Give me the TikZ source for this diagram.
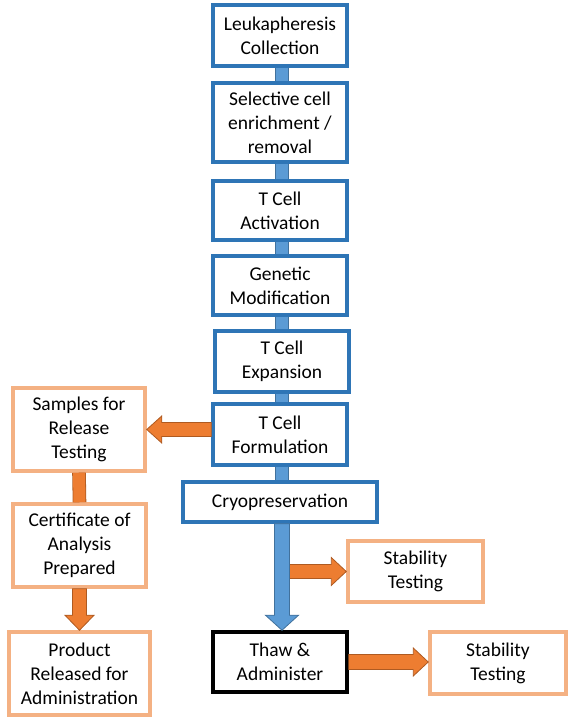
\documentclass[tikz,border=0pt]{standalone}
\usepackage{fontspec}
\setmainfont{Carlito}
\usetikzlibrary{calc}
\definecolor{stepblue}{HTML}{2E75B6}
\definecolor{qcorange}{HTML}{F4B183}
\definecolor{barblue}{HTML}{5B9BD5}
\definecolor{barblueline}{HTML}{41719C}
\definecolor{arrorange}{HTML}{ED7D31}
\definecolor{arrorangeline}{HTML}{AE5A21}
\newcommand{\blockarrow}[5][]{%
  \path[#1] let \p1=(#2), \p2=(#3), \n1={atan2(\y2-\y1,\x2-\x1)}, \n2={veclen(\x2-\x1,\y2-\y1)} in
    [shift={(\p1)}, rotate=\n1]
    (0,-#4) -- (\n2-15,-#4) -- (\n2-15,-#5) -- (\n2,0) -- (\n2-15,#5) -- (\n2-15,#4) -- (0,#4) -- cycle;}

\begin{document}
\begin{tikzpicture}[x=1pt,y=1pt,
    stepbox/.style={draw=stepblue, line width=3.5pt, fill=white, align=center, inner sep=0pt,
      font=\fontsize{19.5}{24}\selectfont, minimum width=134, minimum height=61},
    qcbox/.style={stepbox, draw=qcorange},
    bar/.style={draw=#1line, double=#1, line width=0.8pt, double distance=12pt},
    bluearrow/.style={fill=barblue, draw=barblueline, line width=0.8pt},
    orangearrow/.style={fill=arrorange, draw=arrorangeline, line width=0.8pt}]
    \useasboundingbox (0,0) rectangle (572,722);

    \node[stepbox] (leuk) at (280,686.5) {Leukapheresis\\Collection};
    \node[stepbox, minimum height=79] (sel) at (280,599.5) {Selective cell\\enrichment /\\removal};
    \node[stepbox, minimum height=59] (act) at (280,511.5) {T Cell\\Activation};
    \node[stepbox, minimum height=59] (gen) at (280,436.5) {Genetic\\Modification};
    \node[stepbox] (exp) at (282,360.5) {T Cell\\Expansion};
    \node[stepbox] (form) at (280,287.5) {T Cell\\Formulation};
    \node[stepbox, minimum width=194, minimum height=40] (cryo) at (280,220) {Cryopreservation};
    \node[stepbox, draw=black, minimum height=60] (thaw) at (280,60) {Thaw \&\\Administer};

    \node[qcbox, minimum width=135] (stabA) at (415.5,150.5) {Stability\\Testing};
    \node[qcbox, minimum width=136, minimum height=62] (stabB) at (498,59) {Stability\\Testing};
    \node[qcbox, minimum width=132, minimum height=83] (samp) at (79,292.5) {Samples for\\Release\\Testing};
    \node[qcbox, minimum width=133, minimum height=83] (coa) at (79.5,176.5) {Certificate of\\Analysis\\Prepared};
    \node[qcbox, minimum width=141, minimum height=83] (rel) at (79.5,48.5) {Product\\Released for\\Administration};

    \draw[bar=barblue] ($(leuk.south)+(2,0)$) -- ($(sel.north)+(2,0)$);
    \draw[bar=barblue] ($(sel.south)+(2,0)$) -- ($(act.north)+(2,0)$);
    \draw[bar=barblue] ($(act.south)+(2,0)$) -- ($(gen.north)+(2,0)$);
    \draw[bar=barblue] ($(gen.south)+(2,0)$) -- (exp.north);
    \draw[bar=barblue] (exp.south) -- ($(form.north)+(2,0)$);
    \draw[bar=barblue] ($(form.south)+(2,0)$) -- ($(cryo.north)+(2,0)$);
    \draw[bar=arrorange] (samp.south) -- (coa.north);

    \coordinate (tap) at ($(cryo.south |- stabA.west)+(2,0)$);
    \blockarrow[orangearrow]{tap}{stabA.west}{7}{14}
    \blockarrow[bluearrow]{$(cryo.south)+(2,0)$}{$(thaw.north)+(2,0)$}{7.5}{16.5}
    \blockarrow[orangearrow]{form.west |- samp.east}{samp.east}{7}{13.5}
    \blockarrow[orangearrow]{coa.south}{rel.north}{7}{14.5}
    \blockarrow[orangearrow]{thaw.east}{thaw.east -| stabB.west}{7.5}{14}
\end{tikzpicture}
\end{document}
